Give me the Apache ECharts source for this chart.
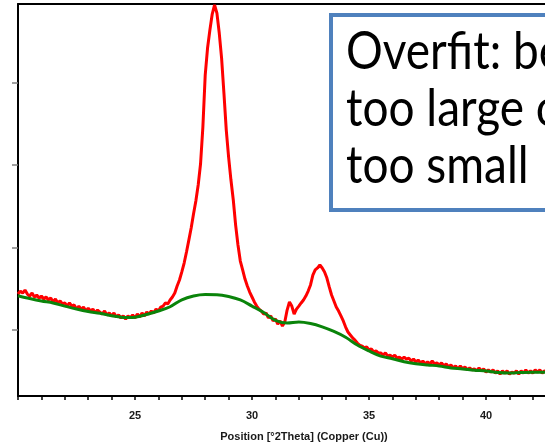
<!DOCTYPE html>
<html><head><meta charset="utf-8">
<script src="https://cdn.jsdelivr.net/npm/echarts@6/dist/echarts.min.js"></script>
<style>html,body{margin:0;padding:0;background:#fff}#c{width:545px;height:442px}</style>
</head><body><div id="c"></div>
<script>
// Measured pattern (red), sampled every 0.1 °2Theta starting at 20.0
const measuredStart = 20.0, measuredStep = 0.1;
const measured = [
  718,736,724,742,718,706,724,700,712,694,
  706,688,700,682,694,670,688,664,676,658,
  664,645,664,645,652,627,645,627,639,615,
  633,615,627,603,621,609,597,615,591,603,
  585,603,579,591,573,585,567,585,573,591,
  573,597,579,603,585,609,597,615,603,627,
  615,639,645,664,658,682,700,724,767,803,
  852,906,973,1045,1118,1203,1282,1379,1506,1730,
  2045,2209,2318,2415,2470,2421,2300,2148,1936,1712,
  1548,1409,1288,1136,1015,918,864,809,767,730,
  700,670,645,627,615,597,603,573,585,555,
  567,536,555,524,548,621,670,645,597,627,
  645,664,682,706,736,773,833,864,876,894,
  876,852,815,761,712,676,639,615,585,555,
  518,488,470,452,439,421,409,403,391,397,
  379,385,367,373,361,361,348,361,342,348,
  336,348,330,336,324,336,324,330,312,324,
  306,318,300,312,294,306,294,312,294,300,
  288,300,282,294,276,288,270,282,264,282,
  264,276,258,270,258,264,252,270,252,264,
  245,258,245,258,239,252,233,252,239,252,
  233,245,239,252,233,252,239,258,239,252,
  239,258,245,258,239,252,245
];
// Fitted background (green), sampled every 0.5 °2Theta starting at 20.0
const backgroundStart = 20.0, backgroundStep = 0.5;
const background = [
  708,691,676,664,645,627,612,601,587,576,
  578,594,615,641,683,706,715,714,703,682,
  645,606,558,542,548,539,519,491,456,409,
  373,342,326,308,296,288,282,270,264,256,
  252,242,239,242,244,244,244
];
const xTickLabels = [25, 30, 35, 40];
const yTickValues = [500, 1000, 1500, 2000];
const xTitle = 'Position [°2Theta] (Copper (Cu))';
const noteLines = ['Over\u200Cfit: bending factor', 'too large or granularity', 'too small'];

const redData = measured.map((v, i) => [+(measuredStart + i * measuredStep).toFixed(2), v]);
const greenData = background.map((v, i) => [+(backgroundStart + i * backgroundStep).toFixed(2), v]);

const X_MIN = 20, X_MAX = 42.52;
const chart = echarts.init(document.getElementById('c'), null, {renderer: 'canvas'});
chart.setOption({
  animation: false,
  backgroundColor: '#ffffff',
  grid: {left: 18, top: 4, right: 0, bottom: 46, show: false, containLabel: false, outerBoundsMode: 'none'},
  xAxis: [{
    type: 'value', min: X_MIN, max: X_MAX, interval: 1,
    axisLine: {show: true, onZero: false, lineStyle: {color: '#000', width: 2}},
    axisTick: {show: true, length: 4, lineStyle: {color: '#000', width: 1.5}},
    axisLabel: {
      formatter: v => (xTickLabels.indexOf(Math.round(v)) >= 0 && Math.abs(v - Math.round(v)) < 1e-6) ? String(Math.round(v)) : '',
      color: '#1a1a1a', fontFamily: 'Liberation Sans', fontWeight: 'bold', fontSize: 11, margin: 14,
      showMaxLabel: false
    },
    splitLine: {show: false},
    name: xTitle, nameLocation: 'middle', nameGap: 35,
    nameTextStyle: {color: '#1a1a1a', fontFamily: 'Liberation Sans', fontWeight: 'bold', fontSize: 11, padding: [0, 0, 0, 45]}
  }, {
    type: 'value', position: 'top', min: X_MIN, max: X_MAX,
    axisLine: {show: true, onZero: false, lineStyle: {color: '#000', width: 2}},
    axisTick: {show: false}, axisLabel: {show: false}, splitLine: {show: false}
  }],
  yAxis: {
    type: 'value', min: 100, max: 2476,
    axisLine: {show: true, lineStyle: {color: '#000', width: 2}},
    axisTick: {show: true, customValues: yTickValues, length: 6, lineStyle: {color: '#808080', width: 1.5}},
    axisLabel: {show: false},
    splitLine: {show: false}
  },
  series: [
    {type: 'line', data: redData, symbol: 'none', showSymbol: false, lineStyle: {color: '#ff0000', width: 3}, itemStyle: {color: '#ff0000'}, z: 2},
    {type: 'line', data: greenData, smooth: 0.35, symbol: 'none', showSymbol: false, lineStyle: {color: '#0a840a', width: 3}, itemStyle: {color: '#0a840a'}, z: 3}
  ],
  graphic: [
    {type: 'rect', z: 100, shape: {x: 331, y: 15, width: 330, height: 195}, style: {fill: '#ffffff', stroke: '#4f81bd', lineWidth: 4}},
    {type: 'text', z: 101, x: 346, y: 24, scaleY: 1.12,
     style: {text: noteLines.join('\n'), font: '46px Lato', fill: '#000', lineHeight: 51, verticalAlign: 'top', align: 'left'}}
  ]
});
</script></body></html>
